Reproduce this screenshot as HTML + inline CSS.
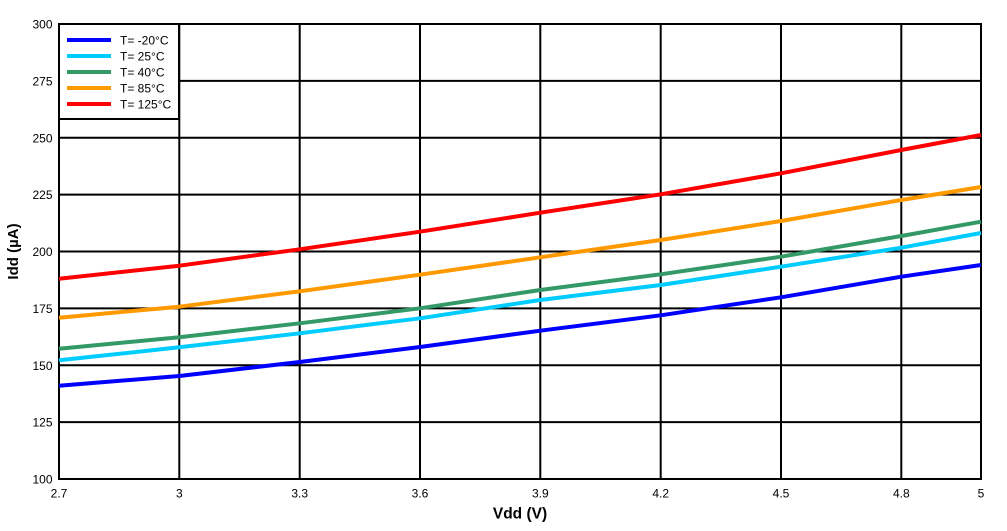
<!DOCTYPE html>
<html><head><meta charset="utf-8"><style>
html,body{margin:0;padding:0;background:#fff;}
svg{display:block;}
text{font-family:"Liberation Sans",Arial,sans-serif;fill:#000;}
</style></head><body>
<svg width="1007" height="531" viewBox="0 0 1007 531" xmlns="http://www.w3.org/2000/svg">
<rect width="1007" height="531" fill="#fff"/>
<g stroke="#000" stroke-width="2" fill="none">
<line x1="179.3" y1="24" x2="179.3" y2="479"/>
<line x1="299.7" y1="24" x2="299.7" y2="479"/>
<line x1="420" y1="24" x2="420" y2="479"/>
<line x1="540.3" y1="24" x2="540.3" y2="479"/>
<line x1="660.7" y1="24" x2="660.7" y2="479"/>
<line x1="781" y1="24" x2="781" y2="479"/>
<line x1="901.3" y1="24" x2="901.3" y2="479"/>
<line x1="59" y1="80.9" x2="981" y2="80.9"/>
<line x1="59" y1="137.8" x2="981" y2="137.8"/>
<line x1="59" y1="194.6" x2="981" y2="194.6"/>
<line x1="59" y1="251.5" x2="981" y2="251.5"/>
<line x1="59" y1="308.4" x2="981" y2="308.4"/>
<line x1="59" y1="365.3" x2="981" y2="365.3"/>
<line x1="59" y1="422.1" x2="981" y2="422.1"/>
<rect x="59" y="24" width="922" height="455"/>
</g>
<g fill="none" stroke-width="4" stroke-linejoin="round">
<polyline stroke="#ff0000" points="59,278.7 179.3,265.7 299.7,249.3 420,231.7 540.3,212.7 660.7,194.3 781,173.3 901.3,150 981,135"/>
<polyline stroke="#ff9900" points="59,317.7 179.3,306.7 299.7,291.3 420,274.7 540.3,257.3 660.7,240 781,221 901.3,200 981,187"/>
<polyline stroke="#339966" points="59,348.7 179.3,337.3 299.7,323.3 420,308.3 540.3,290 660.7,274.3 781,256.7 901.3,236 981,221.7"/>
<polyline stroke="#00ccff" points="59,360.3 179.3,347.3 299.7,333.3 420,318.3 540.3,300 660.7,285 781,266.7 901.3,247.7 981,233"/>
<polyline stroke="#0000ff" points="59,385.7 179.3,376 299.7,362 420,347 540.3,330.7 660.7,315.3 781,297.3 901.3,276.7 981,265"/>
</g>
<!-- legend -->
<rect x="59" y="24" width="120" height="95" fill="#fff" stroke="#000" stroke-width="2"/>
<g stroke-width="4">
<line x1="67" y1="40" x2="111" y2="40" stroke="#0000ff"/>
<line x1="67" y1="56" x2="111" y2="56" stroke="#00ccff"/>
<line x1="67" y1="72" x2="111" y2="72" stroke="#339966"/>
<line x1="67" y1="88" x2="111" y2="88" stroke="#ff9900"/>
<line x1="67" y1="104" x2="111" y2="104" stroke="#ff0000"/>
</g>
<g font-size="12">
<text x="120" y="44.5">T= -20°C</text>
<text x="120" y="60.5">T= 25°C</text>
<text x="120" y="76.5">T= 40°C</text>
<text x="120" y="92.5">T= 85°C</text>
<text x="120" y="108.5">T= 125°C</text>
</g>
<!-- y ticks -->
<g font-size="12" text-anchor="end">
<text x="52.5" y="28.5">300</text>
<text x="52.5" y="85.4">275</text>
<text x="52.5" y="142.3">250</text>
<text x="52.5" y="199.1">225</text>
<text x="52.5" y="256">200</text>
<text x="52.5" y="312.9">175</text>
<text x="52.5" y="369.8">150</text>
<text x="52.5" y="426.6">125</text>
<text x="52.5" y="483.5">100</text>
</g>
<!-- x ticks -->
<g font-size="12" text-anchor="middle">
<text x="59" y="497.5">2.7</text>
<text x="179.3" y="497.5">3</text>
<text x="299.7" y="497.5">3.3</text>
<text x="420" y="497.5">3.6</text>
<text x="540.3" y="497.5">3.9</text>
<text x="660.7" y="497.5">4.2</text>
<text x="781" y="497.5">4.5</text>
<text x="901.3" y="497.5">4.8</text>
<text x="981" y="497.5">5</text>
</g>
<text x="520" y="518.5" font-size="15.5" font-weight="bold" text-anchor="middle">Vdd (V)</text>
<text transform="translate(18,251.5) rotate(-90)" font-size="15" font-weight="bold" text-anchor="middle">Idd (µA)</text>
</svg>
</body></html>
